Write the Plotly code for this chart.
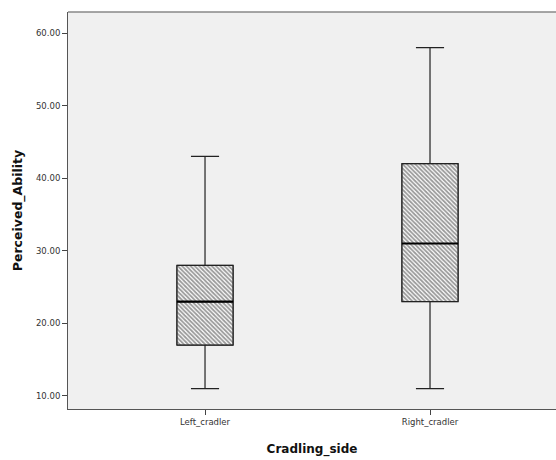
import plotly.graph_objects as go

categories = ["Left_cradler", "Right_cradler"]
lower_whisker = [11, 11]
q1 = [17, 23]
median = [23, 31]
q3 = [28, 42]
upper_whisker = [43, 58]

box_w = 0.25
xpos = list(range(len(categories)))

fig = go.Figure()

# hatched box bodies
fig.add_trace(go.Bar(
    x=xpos, y=[b - a for a, b in zip(q1, q3)], base=q1, width=box_w,
    marker=dict(color="white", line=dict(color="#555", width=1),
                pattern=dict(shape="\\", size=3, solidity=0.6, fgcolor="#333", bgcolor="white")),
    showlegend=False, hoverinfo="skip",
))

# whiskers, box outlines and median
fig.add_trace(go.Box(
    x=xpos, q1=q1, median=median, q3=q3,
    lowerfence=lower_whisker, upperfence=upper_whisker,
    width=box_w, whiskerwidth=0.5,
    fillcolor="rgba(0,0,0,0)", line=dict(color="#222", width=1.2),
    showlegend=False, boxpoints=False,
))

# thicker median lines
for i, m in enumerate(median):
    fig.add_shape(type="line", xref="x", yref="y",
                  x0=xpos[i] - box_w / 2, x1=xpos[i] + box_w / 2, y0=m, y1=m,
                  line=dict(color="black", width=2.2))

# top frame line
fig.add_shape(type="line", xref="paper", yref="paper", x0=0, x1=1, y0=1, y1=1,
              line=dict(color="#888", width=1.5))

fig.update_layout(
    width=556, height=460,
    margin=dict(l=68, r=0, t=12, b=51),
    paper_bgcolor="white", plot_bgcolor="#f0f0f0",
    barmode="overlay",
    font=dict(family="DejaVu Sans", color="#222"),
)
fig.update_xaxes(
    range=[-0.609, 1.56], tickmode="array", tickvals=xpos, ticktext=categories,
    ticks="outside", ticklen=5, tickcolor="#444", tickfont=dict(size=8.5, color="#333"),
    showline=True, linecolor="#555", linewidth=1, showgrid=False, zeroline=False,
    automargin=False,
    title=dict(text="<b>Cradling_side</b>", font=dict(size=12, color="#111"), standoff=18),
)
fig.update_yaxes(
    range=[8.2, 62.9], tickvals=[10, 20, 30, 40, 50, 60], tickformat=".2f",
    ticks="outside", ticklen=5, tickcolor="#444", tickfont=dict(size=8.5, color="#333"),
    showline=True, linecolor="#555", linewidth=1, showgrid=False, zeroline=False,
    automargin=False,
    title=dict(text="<b>Perceived_Ability</b>", font=dict(size=12.5, color="#111"), standoff=10),
)

fig.write_html("out.html", config={"displayModeBar": False},
               post_script="document.body.style.margin='0';")
